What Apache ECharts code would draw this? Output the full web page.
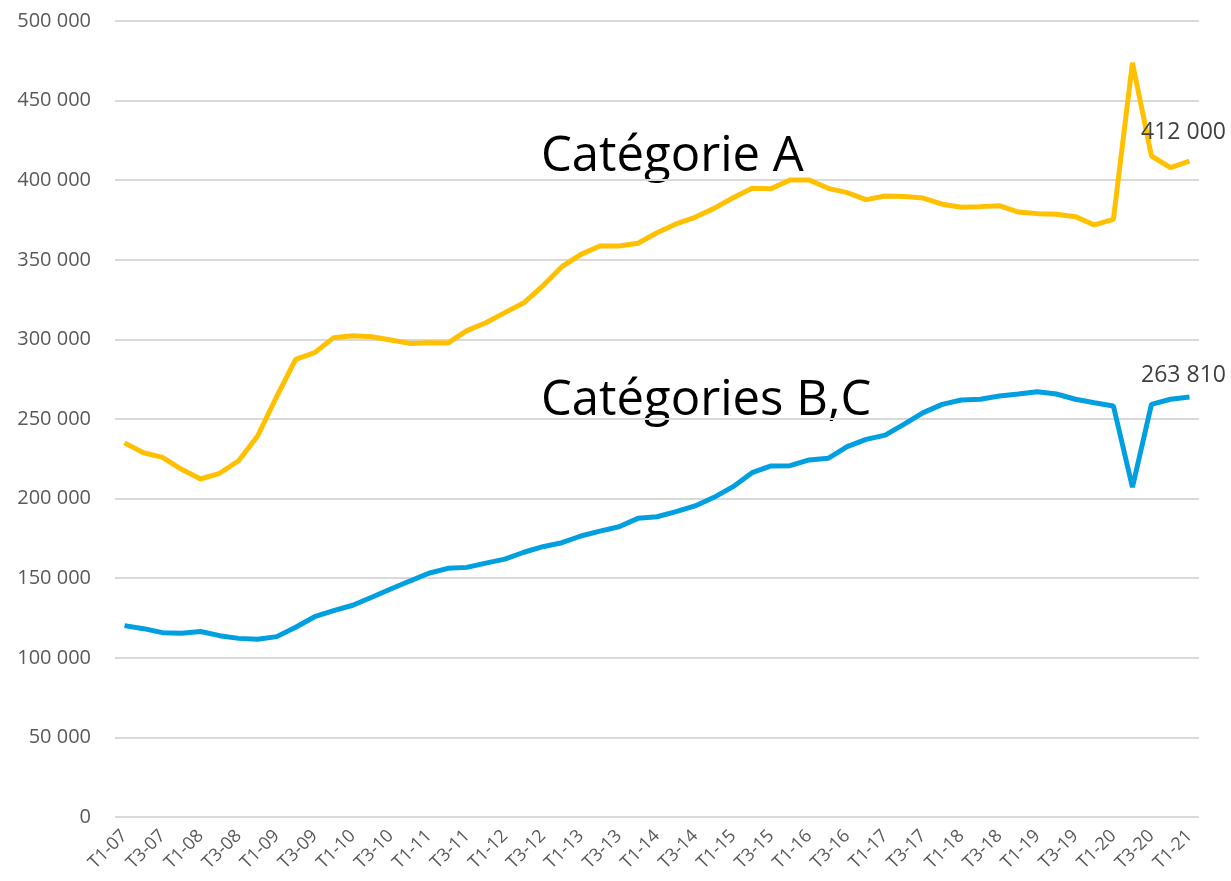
<!DOCTYPE html>
<html>
<head>
<meta charset="utf-8">
<script src="https://cdn.jsdelivr.net/npm/echarts@6/dist/echarts.min.js"></script>
<style>
html,body{margin:0;padding:0;background:#fff;}
#chart{width:1231px;height:881px;}
</style>
</head>
<body>
<div id="chart"></div>
<script>
const categories = [
 'T1-07','T2-07','T3-07','T4-07','T1-08','T2-08','T3-08','T4-08',
 'T1-09','T2-09','T3-09','T4-09','T1-10','T2-10','T3-10','T4-10',
 'T1-11','T2-11','T3-11','T4-11','T1-12','T2-12','T3-12','T4-12',
 'T1-13','T2-13','T3-13','T4-13','T1-14','T2-14','T3-14','T4-14',
 'T1-15','T2-15','T3-15','T4-15','T1-16','T2-16','T3-16','T4-16',
 'T1-17','T2-17','T3-17','T4-17','T1-18','T2-18','T3-18','T4-18',
 'T1-19','T2-19','T3-19','T4-19','T1-20','T2-20','T3-20','T4-20',
 'T1-21'
];
const serieA = [235000,228800,225900,218400,212300,215900,223800,239300,264000,287500,
 291700,301100,302300,301700,299600,297500,297900,297700,305500,310500,
 316800,323000,333700,345700,353400,358700,358700,360400,367000,372500,
 376700,382300,389000,394900,394700,400100,400100,394900,392200,387800,
 390100,389700,388800,384900,383000,383400,384000,380000,379000,378600,
 377100,371900,375400,473800,415200,407900,412000];
const serieBC = [120200,118300,115800,115400,116500,113900,112200,111600,113300,119200,
 125800,129600,133000,138000,143200,148200,153100,156200,156800,159500,
 162000,166300,169800,172300,176500,179600,182300,187600,188600,191800,
 195400,200800,207500,216300,220500,220700,224300,225300,232600,237200,
 239900,246800,254000,259200,261900,262400,264400,265700,267100,265700,
 262400,260200,258200,207100,259200,262400,263810];
const seriesNames = ['Catégorie A', 'Catégories B,C'];
const yTicks = [0, 50000, 100000, 150000, 200000, 250000, 300000, 350000, 400000, 450000, 500000];

const FONT = "'Open Sans', 'Noto Sans', sans-serif";
function fmt(v){ return String(v).replace(/\B(?=(\d{3})+(?!\d))/g, ' '); }

function withLastLabel(arr, distance, offset){
  return arr.map((v, i) => i === arr.length - 1 ? {
    value: v,
    label: {
      show: true, position: 'top', distance: distance, offset: offset,
      formatter: p => fmt(p.value), color: '#404040', fontSize: 23, fontFamily: FONT
    }
  } : v);
}

const chart = echarts.init(document.getElementById('chart'), null, {renderer: 'canvas'});
chart.setOption({
  animation: false,
  backgroundColor: '#ffffff',
  grid: {left: 115, right: 32, top: 21, bottom: 64, containLabel: false},
  xAxis: {
    type: 'category',
    data: categories,
    boundaryGap: true,
    axisLine: {show: false},
    axisTick: {show: false},
    axisLabel: {
      interval: 1, rotate: 45, margin: 16,
      color: '#595959', fontSize: 18, fontFamily: FONT
    },
    splitLine: {show: false}
  },
  yAxis: {
    type: 'value',
    min: yTicks[0], max: yTicks[yTicks.length - 1], interval: yTicks[1] - yTicks[0],
    axisLine: {show: false},
    axisTick: {show: false},
    axisLabel: {color: '#595959', fontSize: 20, fontFamily: FONT, margin: 24, formatter: v => fmt(v)},
    splitLine: {lineStyle: {color: '#d9d9d9', width: 2}}
  },
  series: [
    {
      name: seriesNames[0], type: 'line', data: withLastLabel(serieA, 17, [-6, 0]),
      symbol: 'circle', symbolSize: 0.01, showSymbol: true,
      lineStyle: {color: '#FFC000', width: 5}, itemStyle: {color: '#FFC000'}
    },
    {
      name: seriesNames[1], type: 'line', data: withLastLabel(serieBC, 10, [-6, 0]),
      symbol: 'circle', symbolSize: 0.01, showSymbol: true,
      lineStyle: {color: '#009FDF', width: 5}, itemStyle: {color: '#009FDF'}
    }
  ],
  graphic: [
    {type: 'text', left: 541, top: 133, style: {text: seriesNames[0], font: '49px ' + FONT, fill: '#000000'}},
    {type: 'text', left: 541, top: 377, style: {text: seriesNames[1], font: '49px ' + FONT, fill: '#000000'}}
  ]
});
</script>
</body>
</html>
